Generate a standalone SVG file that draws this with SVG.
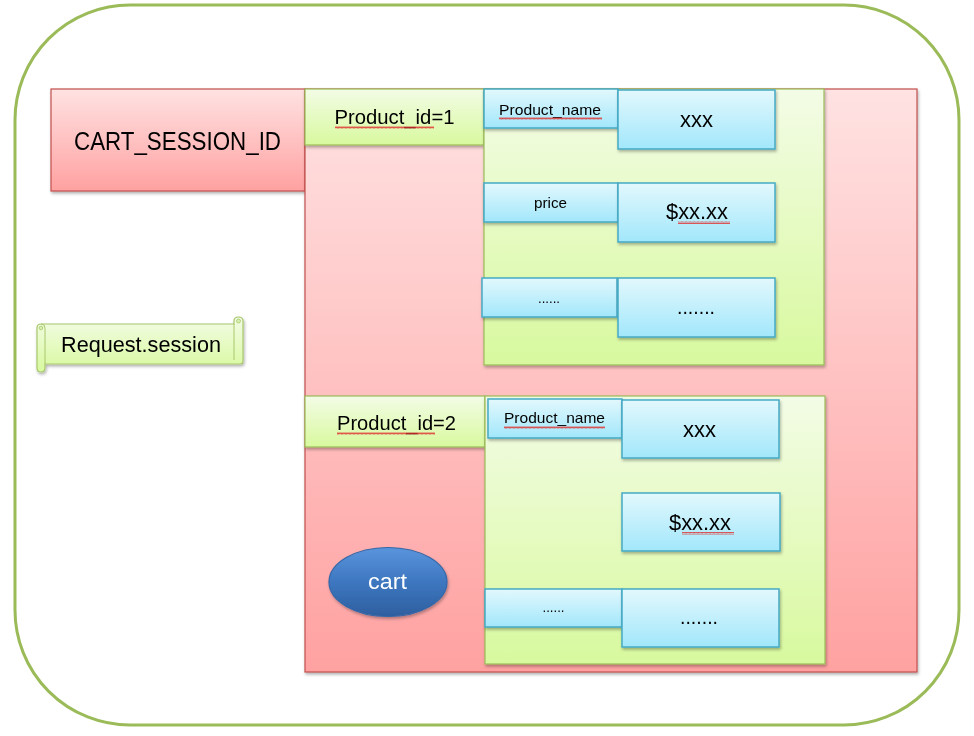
<svg xmlns="http://www.w3.org/2000/svg" width="974" height="736" viewBox="0 0 974 736">
<defs>
<linearGradient id="gRed" x1="0" y1="0" x2="0" y2="1"><stop offset="0" stop-color="#ffe2e2"/><stop offset="1" stop-color="#ffa1a1"/></linearGradient>
<linearGradient id="gGreen" x1="0" y1="0" x2="0" y2="1"><stop offset="0" stop-color="#f3fce6"/><stop offset="1" stop-color="#d8f99e"/></linearGradient>
<linearGradient id="gBlue" x1="0" y1="0" x2="0" y2="1"><stop offset="0" stop-color="#e2f8fd"/><stop offset="1" stop-color="#a2e7fb"/></linearGradient>
<linearGradient id="gCart" x1="0" y1="0" x2="0" y2="1"><stop offset="0" stop-color="#5a95dc"/><stop offset="0.5" stop-color="#3d77c0"/><stop offset="1" stop-color="#2e5f9f"/></linearGradient>
<filter id="sh" x="-10%" y="-10%" width="120%" height="130%"><feDropShadow dx="1" dy="2" stdDeviation="1.5" flood-color="#000" flood-opacity="0.3"/></filter>
<pattern id="squig" width="4" height="3" patternUnits="userSpaceOnUse"><path d="M0,2.5 L1,0.5 L2,2.5 L3,0.5 L4,2.5" fill="none" stroke="#e03030" stroke-width="0.8"/></pattern>
<style>
.red{fill:url(#gRed);stroke:#c0504d;stroke-width:1.2}
.grn{fill:url(#gGreen);stroke:#9bbb59;stroke-width:1.2}
.blu{fill:url(#gBlue);stroke:#46aac5;stroke-width:1.5}
text{font-family:"Liberation Sans",Arial,sans-serif;fill:#000;text-anchor:middle}
.sq{fill:url(#squig)}
</style>
</defs>
<rect x="15" y="5" width="944" height="720" rx="115" ry="115" fill="#fff" stroke="#9bbb59" stroke-width="3"/>

<g id="cart_session_id" filter="url(#sh)">
<rect class="red" x="51" y="89" width="254" height="102"/>
<text x="177.5" y="150" font-size="25" textLength="207" lengthAdjust="spacingAndGlyphs">CART_SESSION_ID</text>
</g>

<g id="session_container" filter="url(#sh)">
<rect class="red" x="305" y="89" width="612" height="583"/>
</g>

<g id="product1" filter="url(#sh)">
<rect class="grn" x="305" y="89" width="179" height="56"/>
<text x="394.5" y="124" font-size="20" textLength="120" lengthAdjust="spacingAndGlyphs">Product_id=1</text>
<rect class="sq" x="335" y="126" width="99" height="3"/>
</g>

<g id="product1_fields" filter="url(#sh)">
<rect class="grn" x="484" y="89" width="340" height="276"/>
</g>

<g id="p1_name_label" filter="url(#sh)">
<rect class="blu" x="484" y="89" width="134" height="39"/>
<text x="550" y="115" font-size="15" textLength="102" lengthAdjust="spacingAndGlyphs">Product_name</text>
<rect class="sq" x="499" y="117" width="103" height="3"/>
</g>
<g id="p1_name_value" filter="url(#sh)">
<rect class="blu" x="618" y="90" width="157" height="59"/>
<text x="696.5" y="127" font-size="22" textLength="33" lengthAdjust="spacingAndGlyphs">xxx</text>
</g>
<g id="p1_price_label" filter="url(#sh)">
<rect class="blu" x="484" y="183" width="134" height="39"/>
<text x="550.5" y="208" font-size="15" textLength="33" lengthAdjust="spacingAndGlyphs">price</text>
</g>
<g id="p1_price_value" filter="url(#sh)">
<rect class="blu" x="618" y="183" width="157" height="59"/>
<text x="697" y="219" font-size="22" textLength="62" lengthAdjust="spacingAndGlyphs">$xx.xx</text>
<rect class="sq" x="678" y="221" width="52" height="3"/>
</g>
<g id="p1_more_label" filter="url(#sh)">
<rect class="blu" x="482" y="278" width="135" height="39"/>
<text x="549" y="303" font-size="14" textLength="22" lengthAdjust="spacingAndGlyphs">......</text>
</g>
<g id="p1_more_value" filter="url(#sh)">
<rect class="blu" x="618" y="278" width="157" height="59"/>
<text x="696" y="314" font-size="20" textLength="38" lengthAdjust="spacingAndGlyphs">.......</text>
</g>

<g id="product2" filter="url(#sh)">
<rect class="grn" x="305" y="396" width="180" height="51"/>
<text x="396.5" y="430" font-size="20" textLength="119" lengthAdjust="spacingAndGlyphs">Product_id=2</text>
<rect class="sq" x="337" y="432" width="98" height="3"/>
</g>

<g id="product2_fields" filter="url(#sh)">
<rect class="grn" x="485" y="396" width="340" height="268"/>
</g>

<g id="p2_name_label" filter="url(#sh)">
<rect class="blu" x="488" y="399" width="134" height="39"/>
<text x="554.5" y="423" font-size="15" textLength="101" lengthAdjust="spacingAndGlyphs">Product_name</text>
<rect class="sq" x="504" y="426" width="101" height="3"/>
</g>
<g id="p2_name_value" filter="url(#sh)">
<rect class="blu" x="622" y="400" width="157" height="58"/>
<text x="699.5" y="437" font-size="22" textLength="33" lengthAdjust="spacingAndGlyphs">xxx</text>
</g>
<g id="p2_price_value" filter="url(#sh)">
<rect class="blu" x="622" y="493" width="158" height="58"/>
<text x="700" y="530" font-size="22" textLength="62" lengthAdjust="spacingAndGlyphs">$xx.xx</text>
<rect class="sq" x="682" y="532" width="52" height="3"/>
</g>
<g id="p2_more_label" filter="url(#sh)">
<rect class="blu" x="485" y="589" width="137" height="38"/>
<text x="553.5" y="612" font-size="14" textLength="22" lengthAdjust="spacingAndGlyphs">......</text>
</g>
<g id="p2_more_value" filter="url(#sh)">
<rect class="blu" x="622" y="589" width="157" height="58"/>
<text x="699" y="624" font-size="20" textLength="38" lengthAdjust="spacingAndGlyphs">.......</text>
</g>

<g id="cart" filter="url(#sh)">
<ellipse cx="388" cy="582" rx="59" ry="34.5" fill="url(#gCart)" stroke="#3467a8" stroke-width="1.2"/>
<text x="387.5" y="589" font-size="22" textLength="39" lengthAdjust="spacingAndGlyphs" style="fill:#fff">cart</text>
</g>

<g id="request_session" filter="url(#sh)">
<path d="M41,324 L234,324 L234,321 Q234,317 238.5,317 Q243,317 243,321 L243,361 Q243,364 240,364 L45,364 L45,368 Q45,372 41,372 Q37,372 37,368 L37,328 Q37,324 41,324 Z" fill="url(#gGreen)" stroke="#a8c86c" stroke-width="1.2"/>
<path d="M234,324 L234,360 M45,328 L45,364 M41,324 Q45,324 45,328" fill="none" stroke="#a8c86c" stroke-width="1"/>
<circle cx="238.5" cy="321" r="2" fill="#d8f0b0" stroke="#a8c86c" stroke-width="0.8"/>
<circle cx="41" cy="328" r="1.8" fill="#d8f0b0" stroke="#a8c86c" stroke-width="0.8"/>
<text x="141" y="352" font-size="22" textLength="160" lengthAdjust="spacingAndGlyphs">Request.session</text>
</g>

<g id="connectors"></g>
</svg>
